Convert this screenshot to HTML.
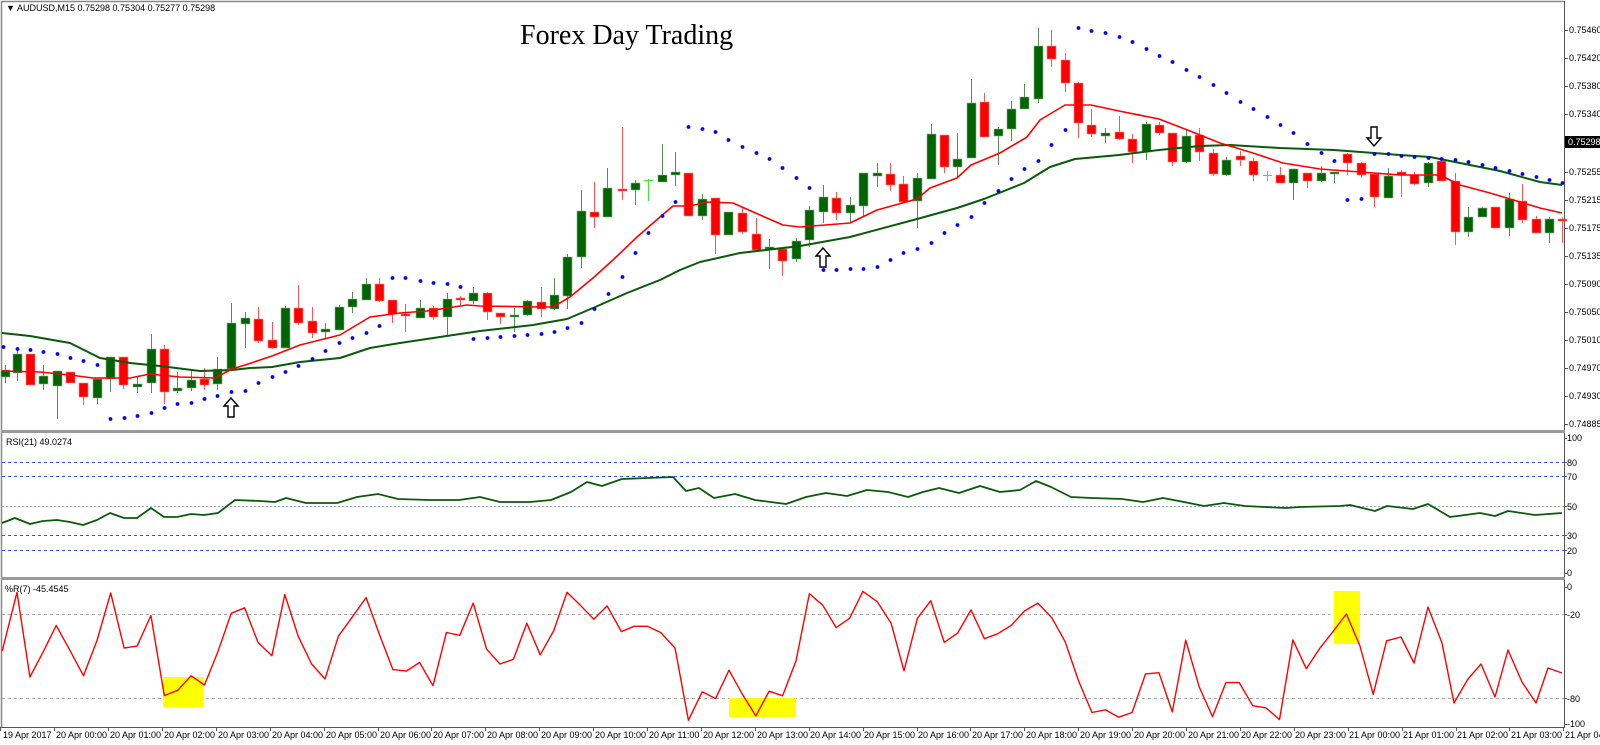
<!DOCTYPE html>
<html><head><meta charset="utf-8">
<style>
html,body{margin:0;padding:0;background:#fff;width:1600px;height:745px;overflow:hidden}
svg{display:block}
text{font-family:"Liberation Sans",sans-serif;font-size:9px;fill:#000}
</style></head>
<body>
<svg id="c" width="1600" height="745" viewBox="0 0 1600 745" xmlns="http://www.w3.org/2000/svg">
<rect x="0" y="0" width="1600" height="745" fill="#fff"/>
<line x1="1.5" y1="1" x2="1.5" y2="727" stroke="#888" stroke-width="1.5"/>
<line x1="1" y1="1.5" x2="1564" y2="1.5" stroke="#888" stroke-width="1.5"/>
<line x1="1564.5" y1="1" x2="1564.5" y2="727" stroke="#555" stroke-width="1"/>
<line x1="1" y1="727.5" x2="1565" y2="727.5" stroke="#555" stroke-width="1"/>
<rect x="1" y="430" width="1564" height="3" fill="#999"/>
<rect x="1" y="577" width="1564" height="3" fill="#999"/>
<g stroke="#3355ee" stroke-width="1" stroke-dasharray="3,3">
<line x1="2" y1="462.5" x2="1564" y2="462.5"/>
<line x1="2" y1="476.5" x2="1564" y2="476.5"/>
<line x1="2" y1="535.5" x2="1564" y2="535.5"/>
<line x1="2" y1="550.5" x2="1564" y2="550.5"/>
</g>
<line x1="2" y1="506.5" x2="1564" y2="506.5" stroke="#9aa8ee" stroke-width="1" stroke-dasharray="2,2"/>
<g stroke="#aaa" stroke-width="1" stroke-dasharray="3,3">
<line x1="2" y1="614.5" x2="1564" y2="614.5"/>
<line x1="2" y1="698.5" x2="1564" y2="698.5"/>
</g>
<rect x="163" y="677" width="41" height="30" fill="#ffff00"/>
<rect x="729" y="698" width="67" height="19" fill="#ffff00"/>
<rect x="1334" y="591" width="26" height="53" fill="#ffff00"/>
<g id="plot"></g>
<text x="6" y="11" font-size="7">▼</text>
<text x="17" y="11">AUDUSD,M15  0.75298 0.75304 0.75277 0.75298</text>
<text x="520" y="44" style="font-family:'Liberation Serif',serif;font-size:28px">Forex Day Trading</text>
<text x="6" y="445">RSI(21) 49.0274</text>
<text x="5" y="592">%R(7) -45.4545</text>
<g id="axis"></g>
<g>
<text x="1569" y="33">0.75460</text>
<text x="1569" y="61">0.75420</text>
<text x="1569" y="89">0.75380</text>
<text x="1569" y="117">0.75340</text>
<text x="1569" y="175">0.75255</text>
<text x="1569" y="203">0.75215</text>
<text x="1569" y="231">0.75175</text>
<text x="1569" y="259">0.75135</text>
<text x="1569" y="287">0.75090</text>
<text x="1569" y="315">0.75050</text>
<text x="1569" y="343">0.75010</text>
<text x="1569" y="371">0.74970</text>
<text x="1569" y="399">0.74930</text>
<text x="1569" y="427">0.74885</text>
<rect x="1565" y="136" width="35" height="12" fill="#000"/>
<text x="1568" y="145" style="fill:#fff">0.75298</text>
<text x="1567" y="441">100</text>
<text x="1567" y="466">80</text>
<text x="1567" y="480">70</text>
<text x="1567" y="510">50</text>
<text x="1567" y="539">30</text>
<text x="1567" y="554">20</text>
<text x="1567" y="576">0</text>
<text x="1567" y="590">0</text>
<text x="1567" y="618">-20</text>
<text x="1567" y="702">-80</text>
<text x="1567" y="727">-100</text>
</g>
<g style="font-size:8.5px">
<text x="3" y="738">19 Apr 2017</text>
<text x="56" y="738">20 Apr 00:00</text>
<text x="110" y="738">20 Apr 01:00</text>
<text x="164" y="738">20 Apr 02:00</text>
<text x="218" y="738">20 Apr 03:00</text>
<text x="272" y="738">20 Apr 04:00</text>
<text x="326" y="738">20 Apr 05:00</text>
<text x="380" y="738">20 Apr 06:00</text>
<text x="433" y="738">20 Apr 07:00</text>
<text x="487" y="738">20 Apr 08:00</text>
<text x="541" y="738">20 Apr 09:00</text>
<text x="595" y="738">20 Apr 10:00</text>
<text x="649" y="738">20 Apr 11:00</text>
<text x="703" y="738">20 Apr 12:00</text>
<text x="757" y="738">20 Apr 13:00</text>
<text x="810" y="738">20 Apr 14:00</text>
<text x="864" y="738">20 Apr 15:00</text>
<text x="918" y="738">20 Apr 16:00</text>
<text x="972" y="738">20 Apr 17:00</text>
<text x="1026" y="738">20 Apr 18:00</text>
<text x="1080" y="738">20 Apr 19:00</text>
<text x="1134" y="738">20 Apr 20:00</text>
<text x="1188" y="738">20 Apr 21:00</text>
<text x="1241" y="738">20 Apr 22:00</text>
<text x="1295" y="738">20 Apr 23:00</text>
<text x="1349" y="738">21 Apr 00:00</text>
<text x="1403" y="738">21 Apr 01:00</text>
<text x="1457" y="738">21 Apr 02:00</text>
<text x="1511" y="738">21 Apr 03:00</text>
<text x="1565" y="738">21 Apr 04:00</text>
</g>
</svg>
<script>
(function(){
var NS="http://www.w3.org/2000/svg";
var plot=document.getElementById("plot"),axis=document.getElementById("axis");
function el(p,t,a){var e=document.createElementNS(NS,t);for(var k in a)e.setAttribute(k,a[k]);p.appendChild(e);return e;}
var py=[30,58,86,114,142,172,200,228,256,284,312,340,368,396,424];
py.forEach(function(y){el(axis,"line",{x1:1564,y1:y+0.5,x2:1568,y2:y+0.5,stroke:"#555"});});
[438,462,476,506,535,550,573,587,614,698,724].forEach(function(y){el(axis,"line",{x1:1564,y1:y+0.5,x2:1567,y2:y+0.5,stroke:"#555"});});
for(var k=0;k<30;k++){var x=Math.round(0.2+53.9*k)+0.5;el(axis,"line",{x1:x,y1:727,x2:x,y2:731,stroke:"#555"});}
var C=[[5,'g',370,377,365,383],[17,'g',354,373,350,381],[30,'r',354,385,354,385],[43,'g',376,384,365,390],[57,'g',371,386,371,419],[70,'r',372,383,372,383],[83,'r',383,397,383,405],[97,'g',379,398,379,404],[110,'g',357,379,357,392],[123,'r',357,385,357,389],[137,'g',384,387,377,393],[151,'g',349,383,334,393],[164,'r',349,392,345,404],[177,'g',388,391,372,393],[191,'g',380,388,370,391],[204,'r',379,385,368,390],[217,'g',369,384,357,390],[231,'g',323,369,303,370],[245,'g',318,324,312,348],[258,'r',319,341,307,343],[272,'r',340,348,322,349],[285,'g',308,348,306,348],[298,'r',308,323,285,325],[312,'r',321,333,307,338],[325,'g',329,332,323,338],[339,'g',307,330,305,330],[352,'g',299,307,292,313],[366,'g',284,300,278,300],[379,'r',284,301,278,302],[392,'r',300,314,300,323],
[405,'r',314,316,304,332],[420,'g',308,318,300,318],[433,'r',308,317,306,320],[447,'g',299,317,293,335],[460,'r',298,300,296,305],[473,'g',293,301,287,304],[487,'r',293,312,292,320],[500,'r',313,317,313,324],[514,'g',315,317,308,332],[527,'g',301,315,300,316],[541,'r',302,309,287,317],[554,'g',295,309,278,310],[567,'g',257,296,254,309],[581,'g',211,257,190,268],[594,'r',212,217,182,228],[607,'g',188,217,168,217],[622,'r',189,191,127,200],[635,'g',183,190,180,205],[648,'l',180,182,179,201],[662,'g',175,182,144,182],[675,'g',172,175,152,186],[688,'r',173,216,173,216],[702,'g',199,216,194,220],[715,'r',198,235,198,254],[728,'g',212,235,212,235],[742,'r',213,232,208,234],[756,'r',234,250,218,250],[769,'g',247,249,239,269],[782,'r',249,261,247,276],[796,'g',241,259,238,262],
[809,'g',210,240,206,247],[823,'g',197,212,185,223],[836,'r',198,213,192,220],[850,'g',205,213,197,222],[863,'g',173,206,173,216],[877,'g',173,176,163,187],[890,'r',174,185,163,191],[903,'r',184,202,176,203],[917,'g',178,201,173,228],[931,'g',134,179,124,179],[944,'r',135,167,135,173],[957,'g',159,167,133,177],[971,'g',103,158,79,158],[984,'r',102,137,93,137],[998,'g',129,136,127,165],[1011,'g',109,129,101,141],[1024,'g',97,109,84,109],[1038,'g',46,99,28,103],[1051,'r',46,59,30,67],[1065,'r',60,83,53,92],[1078,'r',83,123,82,138],[1091,'r',125,134,109,137],[1105,'g',133,136,128,143],[1119,'r',132,139,116,140],[1132,'r',139,152,134,163],[1146,'g',124,152,122,160],[1159,'r',125,133,122,135],[1172,'r',133,162,133,166],[1186,'g',136,162,130,163],[1199,'r',135,152,128,161],
[1213,'r',153,174,149,176],[1226,'g',160,175,157,176],[1240,'r',156,160,151,166],[1253,'r',161,175,158,181],[1267,'l',175,177,171,181],[1280,'r',175,183,167,183],[1293,'g',169,183,169,200],[1307,'r',173,181,173,188],[1321,'g',173,181,166,182],[1334,'g',172,174,172,183],[1347,'r',154,163,153,175],[1361,'r',163,175,162,178],[1374,'r',174,197,174,207],[1388,'g',176,198,168,198],[1401,'r',172,175,170,197],[1414,'r',175,184,172,185],[1428,'g',163,183,162,187],[1441,'r',161,181,161,181],[1455,'r',181,232,173,245],[1468,'g',217,232,207,237],[1482,'g',208,217,207,217],[1495,'r',207,228,207,228],[1509,'g',199,228,193,236],[1522,'r',201,220,184,223],[1536,'r',219,233,216,233],[1549,'g',219,233,217,243],[1562,'r',219,221,217,243]];
C.forEach(function(c){
 var col=c[1]=='g'?'#006400':(c[1]=='r'?'#ff0000':'#33ee33');
 var wc=c[1]=='g'?'#5a8a5a':(c[1]=='r'?'#ff5555':'#33ee33');
 el(plot,"line",{x1:c[0]+0.5,y1:c[4],x2:c[0]+0.5,y2:c[5],stroke:wc,"stroke-width":1});
 var h=Math.max(1,c[3]-c[2]);
 if(c[1]=='l'){el(plot,"rect",{x:c[0]-4,y:c[2],width:9,height:1,fill:col});}
 else el(plot,"rect",{x:c[0]-4,y:c[2],width:9,height:h,fill:col,stroke:c[1]=='g'?'#8fb08f':'#ff8888',"stroke-width":0.6});
});
function pl(pts,col,w){el(plot,"polyline",{points:pts.map(function(p){return p[0]+","+p[1]}).join(" "),fill:"none",stroke:col,"stroke-width":w,"stroke-linejoin":"round"});}
var gma=[[2,333],[30,336],[70,343],[100,358],[130,363],[160,366],[200,371],[232,370],[250,368],[272,367],[300,362],[340,358],[370,348],[400,343],[440,337],[480,331],[533,325],[567,319],[593,308],[627,293],[660,280],[680,270],[700,262],[740,253],[800,246],[850,237],[917,219],[957,208],[984,199],[1024,183],[1050,167],[1075,159],[1119,155],[1159,150],[1200,146],[1230,145],[1280,148],[1334,150],[1374,153],[1400,155],[1430,157],[1460,163],[1500,171],[1540,182],[1562,185]];
var rma=[[2,371],[40,372],[70,375],[93,378],[130,378],[150,374],[180,377],[215,378],[232,369],[245,365],[272,356],[300,345],[340,335],[370,317],[400,313],[427,311],[467,305],[480,306],[540,307],[553,307],[570,297],[593,278],[613,260],[637,237],[660,217],[673,206],[690,206],[707,202],[733,203],[760,215],[783,225],[800,227],[850,223],[877,210],[917,199],[930,188],[957,178],[971,165],[1000,153],[1027,137],[1040,120],[1065,105],[1091,105],[1119,111],[1159,119],[1190,131],[1220,143],[1253,153],[1283,163],[1320,169],[1360,172],[1400,175],[1440,175],[1460,185],[1490,193],[1510,199],[1540,208],[1562,213]];
pl(gma,"#0b5a0b",2);pl(rma,"#ff0000",1.6);
var sar=[[3,347],[17,349],[30,350],[43,352],[57,354],[70,358],[83,361],[97,365],[110,419],[124,418],[137,416],[151,413],[164,408],[177,404],[191,403],[204,399],[217,396],[231,392],[245,391],[258,383],[272,377],[285,372],[298,366],[312,359],[325,351],[339,343],[352,338],[366,333],[379,326],[392,278],[405,278],[420,281],[433,283],[447,284],[460,287],[473,339],[487,338],[500,337],[514,336],[527,335],[541,334],[554,332],[567,328],[581,323],[594,309],[608,294],[622,277],[635,253],[648,233],[662,216],[675,202],[688,127],[702,129],[715,132],[728,140],[742,147],[756,153],[769,159],[782,168],[796,178],[809,188],[823,270],[836,270],[850,269],[863,269],[877,267],[890,260],[903,253],[917,249],[931,243],[944,233],[957,225],[971,217],[984,203],[998,191],[1011,179],[1024,169],[1038,161],[1051,145],[1065,130],[1078,28],[1091,31],[1105,33],[1119,37],[1132,42],[1146,49],[1159,56],[1172,62],[1186,70],[1199,77],[1213,85],[1226,93],[1240,102],[1253,109],[1267,117],[1280,125],[1293,133],[1307,144],[1321,153],[1334,161],[1347,200],[1361,199],[1374,154],[1388,154],[1401,156],[1414,157],[1428,158],[1441,159],[1455,160],[1468,162],[1482,165],[1495,168],[1509,171],[1522,174],[1536,177],[1549,180],[1562,183]];
sar.forEach(function(p){el(plot,"circle",{cx:p[0]+0.5,cy:p[1],r:1.9,fill:"#0000ff"});});
function up(x,y){el(plot,"path",{d:"M"+x+","+y+" l-7,8 h4 v11 h6 v-11 h4 z",fill:"#fff",stroke:"#000","stroke-width":1.4});}
function dn(x,y){el(plot,"path",{d:"M"+x+","+y+" l-7,-8 h4 v-11 h6 v11 h4 z",fill:"#fff",stroke:"#000","stroke-width":1.4});}
up(231,398);up(823,248);dn(1374,146);
var rsi=[[2,523],[15,518],[30,524],[43,521],[57,520],[70,522],[83,525],[97,520],[110,513],[124,518],[137,518],[151,508],[164,517],[177,517],[191,514],[204,515],[218,513],[235,500],[260,501],[275,502],[286,498],[306,503],[337,503],[357,497],[378,494],[398,499],[429,500],[459,500],[480,497],[500,502],[530,502],[551,500],[571,492],[587,482],[602,486],[622,479],[673,477],[686,491],[699,488],[714,498],[735,494],[755,500],[786,504],[806,497],[826,493],[847,496],[867,490],[888,492],[908,497],[923,492],[939,488],[959,493],[980,486],[1000,492],[1020,490],[1036,481],[1051,487],[1071,497],[1092,498],[1122,499],[1143,502],[1163,498],[1184,502],[1204,506],[1224,503],[1245,506],[1265,507],[1286,508],[1300,507],[1340,506],[1350,505],[1375,511],[1387,506],[1413,509],[1428,504],[1450,517],[1480,513],[1495,516],[1508,511],[1535,515],[1562,513]];
pl(rsi,"#0b5a0b",1.8);
var z8=[[5,438],[38,248],[67,522],[97,440],[126,355],[157,437],[187,518],[217,405],[248,250],[278,428],[307,422],[338,323],[368,582],[398,565],[428,518],[458,548],[488,440],[518,316],[548,298],[578,410],[609,453],[638,255],[668,390],[698,480],[728,528],[758,390],[788,330],[820,265],[850,385],[880,498],[910,503],[940,475],[970,550],[1000,378],[1030,387],[1060,283],[1090,432],[1120,480],[1150,465],[1180,348],[1210,450],[1240,373],[1270,248],[1300,290],[1330,335],[1360,292],[1392,375],[1420,358],[1450,358],[1480,378],[1512,428],[1542,662]];
var z9=[[5,570],[35,592],[65,500],[95,578],[125,648],[155,568],[185,583],[215,470],[245,252],[275,290],[305,362],[335,332],[365,245],[397,278],[428,348],[457,502],[487,332],[517,275],[547,410],[577,380],[607,305],[637,398],[667,382],[697,355],[727,308],[757,283],[788,330],[818,408],[848,535],[878,637],[908,628],[938,652],[968,637],[998,512],[1028,508],[1058,635],[1088,403],[1118,553],[1148,650],[1178,540],[1208,540],[1238,615],[1268,622],[1298,660],[1328,402],[1358,495],[1388,430],[1418,375],[1448,318],[1478,420],[1508,578],[1538,405]];
var w=[];
z8.forEach(function(p){w.push([(p[0]/2.24).toFixed(1),(515.7+0.309*p[1]).toFixed(1)]);});
z9.forEach(function(p){w.push([(700+p[0]/2.24).toFixed(1),(515.7+0.309*p[1]).toFixed(1)]);});
[[1401,637],[1414,663],[1428,607],[1442,643],[1454,703],[1468,679],[1481,664],[1495,697],[1508,650],[1522,682],[1536,703],[1548,668],[1562,673]].forEach(function(p){w.push(p);});
pl(w,"#ff0000",1.4);
})();
</script>
</body></html>
